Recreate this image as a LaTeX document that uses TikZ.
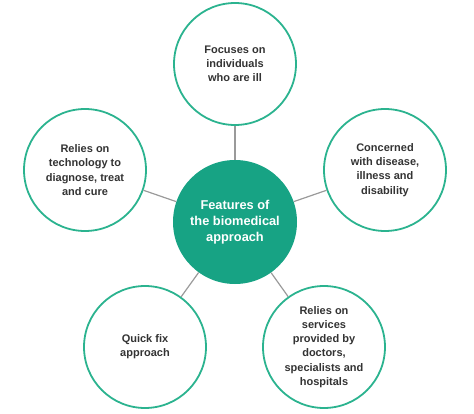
\documentclass[tikz,border=0pt]{standalone}
\usepackage{fontspec}
\setmainfont{Liberation Sans}
\definecolor{tealfill}{HTML}{17A384}
\definecolor{tealline}{HTML}{2BB38F}
\definecolor{linkgray}{HTML}{9A9A9A}
\definecolor{txtgray}{HTML}{333333}
\tikzset{
  feature/.style={circle, draw=tealline, line width=1.8pt, fill=white,
    minimum size=122pt, inner sep=0pt, align=center, text=txtgray,
    font=\fontsize{11}{14.2}\selectfont\bfseries},
  hub/.style={circle, fill=tealfill, minimum size=124pt, inner sep=0pt,
    align=center, text=white, font=\fontsize{12.8}{16.2}\selectfont\bfseries},
  link/.style={draw=linkgray, line width=1.2pt}
}
\begin{document}
\begin{tikzpicture}[x=1pt,y=1pt]
\useasboundingbox (0,0) rectangle (474,413);
\node[hub] (c) at (235,191) {Features of\\the biomedical\\approach};
\node[feature] (t) at (235,349) {Focuses on\\individuals\\who are ill};
\node[feature] (l) at (85,243) {Relies on\\technology to\\diagnose, treat\\and cure};
\node[feature] (r) at (385,243) {Concerned\\with disease,\\illness and\\disability};
\node[feature] (bl) at (145,66) {Quick fix\\approach};
\node[feature] (br) at (324,66) {Relies on\\services\\provided by\\doctors,\\specialists and\\hospitals};
\draw[link] (c) -- (t);
\draw[link] (c) -- (l);
\draw[link] (c) -- (r);
\draw[link] (c) -- (bl);
\draw[link] (c) -- (br);
\end{tikzpicture}
\end{document}
